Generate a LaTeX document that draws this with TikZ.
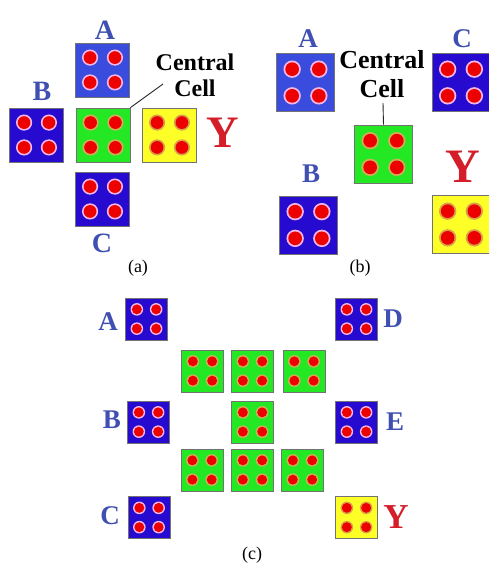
\documentclass[tikz,border=0pt]{standalone}
\usepackage{fontspec}
\setmainfont{LiberationSerif}[Extension=.ttf, UprightFont=*-Regular, BoldFont=*-Bold, ItalicFont=*-Italic, BoldItalicFont=*-BoldItalic]
\usetikzlibrary{calc}
\definecolor{cblue}{RGB}{38,10,208}
\definecolor{cblueL}{RGB}{58,76,222}
\definecolor{cgreen}{RGB}{36,232,36}
\definecolor{cyellow}{RGB}{255,255,40}
\definecolor{cred}{RGB}{236,0,0}
\definecolor{ringpink}{RGB}{242,182,228}
\definecolor{ringtan}{RGB}{206,176,86}
\definecolor{ringor}{RGB}{218,162,72}
\definecolor{lblue}{RGB}{64,80,178}
\definecolor{lred}{RGB}{212,30,42}
\tikzset{
  cellbox/.style={draw=black!55, line width=0.6pt, inner sep=0pt, rectangle},
  lbl/.style={font=\bfseries\fontsize{#1}{#1}\selectfont, text=lblue, inner sep=0pt},
  ylbl/.style={font=\bfseries\fontsize{#1}{#1}\selectfont, text=lred, inner sep=0pt},
  captxt/.style={font=\fontsize{18}{18}\selectfont, inner sep=0pt},
  cctext/.style={font=\bfseries\fontsize{24}{26}\selectfont, align=center, inner sep=0pt},
  ccline/.style={line width=0.9pt, draw=black!85}
}
\newcommand\mycell[6]{%
  \node[cellbox, fill=#5, minimum size=#4pt] (#1) at (#2,#3) {};
  \foreach \sx/\sy in {-1/-1,-1/1,1/-1,1/1}{
    \fill[#6] ($(#1.center)+(\sx*0.23*#4,\sy*0.23*#4)$) circle[radius=0.15*#4];
    \fill[cred] ($(#1.center)+(\sx*0.23*#4,\sy*0.23*#4)$) circle[radius=0.118*#4];
  }%
}
\begin{document}
\begin{tikzpicture}[x=1pt,y=-1pt]
\useasboundingbox[fill=white] (0,0) rectangle (489,567);
% ---------- (a)
\mycell{aA}{102.5}{70}{54}{cblueL}{ringpink}
\mycell{aB}{36.5}{135}{54}{cblue}{ringpink}
\mycell{aG}{103}{135}{54}{cgreen}{ringtan}
\mycell{aY}{169.5}{135}{54}{cyellow}{ringor}
\mycell{aC}{102.5}{199}{54}{cblue}{ringpink}
\node[lbl=28] (aAl) at (105,30) {A};
\node[lbl=28] (aBl) at (42,91) {B};
\node[lbl=28] (aCl) at (102,243) {C};
\node[ylbl=45] (aYl) at (223,133) {Y};
\node[cctext] (aCC) at (195,75) {Central\\Cell};
\coordinate (aCCe) at (163,84);
\draw[ccline] (aG.north east) -- (aCCe);
\node[captxt] (capa) at (138,268) {(a)};
% ---------- (b)
\mycell{bA}{305.5}{82.5}{58}{cblueL}{ringpink}
\mycell{bC}{461}{82.5}{58}{cblue}{ringpink}
\mycell{bG}{383.5}{154}{58}{cgreen}{ringtan}
\mycell{bB}{308.5}{225}{58}{cblue}{ringpink}
\mycell{bY}{461}{224.5}{58}{cyellow}{ringor}
\node[lbl=27] (bAl) at (308,39) {A};
\node[lbl=27] (bCl) at (462,39) {C};
\node[lbl=27] (bBl) at (311,174) {B};
\node[ylbl=48] (bYl) at (463,167) {Y};
\node[cctext, font=\bfseries\fontsize{26}{29}\selectfont] (bCC) at (382,74) {Central\\Cell};
\coordinate (bCCe) at (383,103);
\draw[ccline] (bG.north) -- (bCCe);
\node[captxt] (capb) at (360,268) {(b)};
% ---------- (c)
\mycell{cA}{146.5}{319}{42}{cblue}{ringpink}
\mycell{cD}{356.5}{319}{42}{cblue}{ringpink}
\mycell{cG1}{202.5}{371}{42}{cgreen}{ringtan}
\mycell{cG2}{252.5}{371}{42}{cgreen}{ringtan}
\mycell{cG3}{304}{371}{42}{cgreen}{ringtan}
\mycell{cB}{148.5}{422}{42}{cblue}{ringpink}
\mycell{cG4}{252.5}{422}{42}{cgreen}{ringtan}
\mycell{cE}{356.5}{422}{42}{cblue}{ringpink}
\mycell{cG5}{202}{470}{42}{cgreen}{ringtan}
\mycell{cG6}{252.5}{470}{42}{cgreen}{ringtan}
\mycell{cG7}{302.5}{470}{42}{cgreen}{ringtan}
\mycell{cC}{149}{517.5}{42}{cblue}{ringpink}
\mycell{cY}{356.5}{517.5}{42}{cyellow}{ringor}
\node[lbl=27] (cAl) at (108,322) {A};
\node[lbl=27] (cBl) at (112,420) {B};
\node[lbl=27] (cCl) at (110,516) {C};
\node[lbl=27] (cDl) at (393,319) {D};
\node[lbl=27] (cEl) at (395,422) {E};
\node[ylbl=35] (cYl) at (396,517) {Y};
\node[captxt] (capc) at (252,555) {(c)};
\end{tikzpicture}
\end{document}
